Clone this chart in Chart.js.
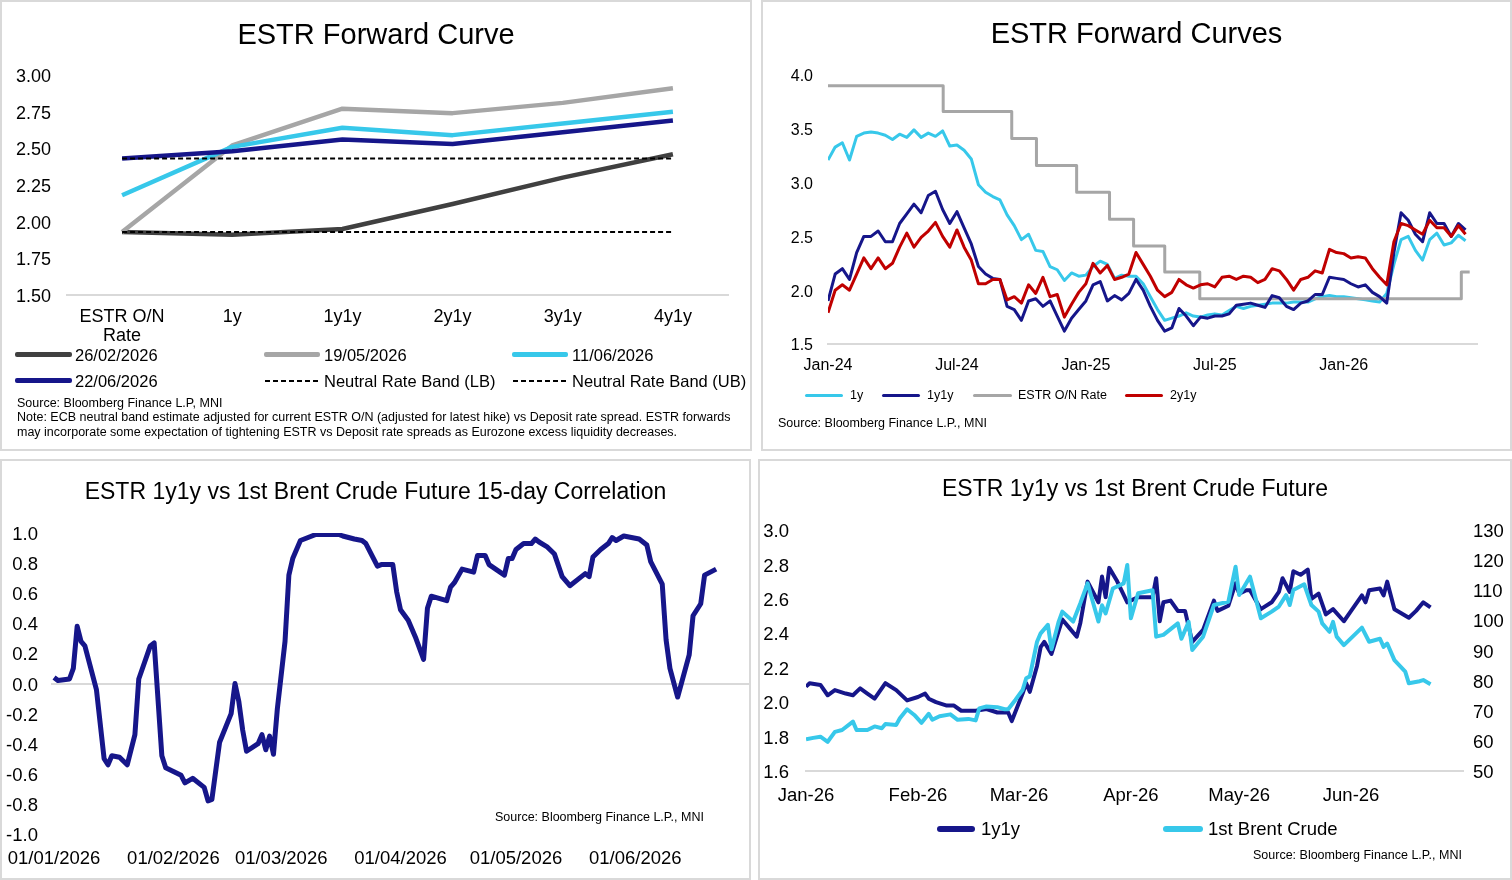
<!DOCTYPE html>
<html>
<head>
<meta charset="utf-8">
<title>ESTR forward curves</title>
<script src="https://cdn.jsdelivr.net/npm/chart.js@4.4.1/dist/chart.umd.min.js"></script>
<style>
  body { margin: 0; width: 1512px; height: 880px; position: relative; overflow: hidden; background: #fff;
         font-family: "Liberation Sans", Arial, sans-serif; color: #000; }
  .box { position: absolute; border: 2px solid #d9d9d9; box-sizing: border-box; }
  canvas { position: absolute; }
  .t { position: absolute; white-space: nowrap; line-height: 1; }
  .s { font-size: 12.5px; }
  .sw { position: absolute; border-radius: 2px; }
  .dash { position: absolute; height: 2px; background: repeating-linear-gradient(90deg, #000 0 5px, transparent 5px 8px); }
</style>
</head>
<body>
<!-- panel frames -->
<div class="box" style="left:0;top:0;width:752px;height:451px"></div>
<div class="box" style="left:761px;top:0;width:751px;height:451px"></div>
<div class="box" style="left:0;top:459px;width:751px;height:421px"></div>
<div class="box" style="left:758px;top:459px;width:754px;height:421px"></div>

<canvas id="curveChart" width="752" height="451" style="left:0;top:0"></canvas>
<canvas id="historyChart" width="751" height="451" style="left:761px;top:0"></canvas>
<canvas id="corrChart" width="751" height="421" style="left:0;top:459px"></canvas>
<canvas id="brentChart" width="754" height="421" style="left:758px;top:459px"></canvas>

<!-- top left -->
<div class="t" style="left:0;width:752px;text-align:center;top:20px;font-size:29px">ESTR Forward Curve</div>
<div class="sw" style="left:15px;top:352px;width:57px;height:5px;background:#404040"></div>
<div class="t" style="left:75px;top:347px;font-size:16.5px">26/02/2026</div>
<div class="sw" style="left:264px;top:352px;width:56px;height:5px;background:#a6a6a6"></div>
<div class="t" style="left:324px;top:347px;font-size:16.5px">19/05/2026</div>
<div class="sw" style="left:512px;top:352px;width:56px;height:5px;background:#37c8ea"></div>
<div class="t" style="left:572px;top:347px;font-size:16.5px">11/06/2026</div>
<div class="sw" style="left:15px;top:378px;width:57px;height:5px;background:#16168a"></div>
<div class="t" style="left:75px;top:373px;font-size:16.5px">22/06/2026</div>
<div class="dash" style="left:265px;top:380px;width:56px"></div>
<div class="t" style="left:324px;top:373px;font-size:16.5px">Neutral Rate Band (LB)</div>
<div class="dash" style="left:513px;top:380px;width:56px"></div>
<div class="t" style="left:572px;top:373px;font-size:16.5px">Neutral Rate Band (UB)</div>
<div class="t s" style="left:17px;top:397px">Source: Bloomberg Finance L.P, MNI</div>
<div class="t s" style="left:17px;top:411px">Note: ECB neutral band estimate adjusted for current ESTR O/N (adjusted for latest hike) vs Deposit rate spread. ESTR forwards</div>
<div class="t s" style="left:17px;top:426px">may incorporate some expectation of tightening ESTR vs Deposit rate spreads as Eurozone excess liquidity decreases.</div>

<!-- top right -->
<div class="t" style="left:761px;width:751px;text-align:center;top:19px;font-size:29px">ESTR Forward Curves</div>
<div class="sw" style="left:805px;top:394px;width:38px;height:3px;background:#37c8ea"></div>
<div class="t s" style="left:850px;top:389px">1y</div>
<div class="sw" style="left:882px;top:394px;width:38px;height:3px;background:#16168a"></div>
<div class="t s" style="left:927px;top:389px">1y1y</div>
<div class="sw" style="left:973px;top:394px;width:39px;height:3px;background:#a6a6a6"></div>
<div class="t s" style="left:1018px;top:389px">ESTR O/N Rate</div>
<div class="sw" style="left:1125px;top:394px;width:38px;height:3px;background:#c00000"></div>
<div class="t s" style="left:1170px;top:389px">2y1y</div>
<div class="t s" style="left:778px;top:417px">Source: Bloomberg Finance L.P., MNI</div>

<!-- bottom left -->
<div class="t" style="left:0;width:751px;text-align:center;top:480px;font-size:23px">ESTR 1y1y vs 1st Brent Crude Future 15-day Correlation</div>
<div class="t s" style="left:495px;top:811px">Source: Bloomberg Finance L.P., MNI</div>

<!-- bottom right -->
<div class="t" style="left:758px;width:754px;text-align:center;top:477px;font-size:23px">ESTR 1y1y vs 1st Brent Crude Future</div>
<div class="sw" style="left:937px;top:826px;width:38px;height:6px;background:#16168a;border-radius:3px"></div>
<div class="t" style="left:981px;top:820px;font-size:18.5px">1y1y</div>
<div class="sw" style="left:1163px;top:826px;width:40px;height:6px;background:#37c8ea;border-radius:3px"></div>
<div class="t" style="left:1208px;top:820px;font-size:18.5px">1st Brent Crude</div>
<div class="t s" style="left:1253px;top:849px">Source: Bloomberg Finance L.P., MNI</div>

<script>
// --- forward curve snapshots (top left) ---
const tenorLabels = [['ESTR O/N', 'Rate'], '1y', '1y1y', '2y1y', '3y1y', '4y1y'];
const curve260226 = [1.93, 1.91, 1.95, 2.12, 2.30, 2.46];
const curve190526 = [1.93, 2.52, 2.77, 2.74, 2.81, 2.91];
const curve110626 = [2.18, 2.51, 2.64, 2.59, 2.67, 2.75];
const curve220626 = [2.43, 2.48, 2.56, 2.53, 2.61, 2.69];
const neutralLB = [1.93, 1.93, 1.93, 1.93, 1.93, 1.93];
const neutralUB = [2.43, 2.43, 2.43, 2.43, 2.43, 2.43];

// --- forward history, one reading every ~10 days from Jan-24 (top right) ---
const histTickMonths = [0, 6, 12, 18, 24];
const histTickLabels = ['Jan-24', 'Jul-24', 'Jan-25', 'Jul-25', 'Jan-26'];
const hist1y = [
  3.21, 3.33, 3.37, 3.21, 3.43, 3.46, 3.47, 3.46, 3.44, 3.40,
  3.45, 3.42, 3.49, 3.42, 3.46, 3.43, 3.48, 3.34, 3.35, 3.30,
  3.22, 2.98, 2.91, 2.87, 2.84, 2.70, 2.60, 2.47, 2.52, 2.37,
  2.36, 2.22, 2.19, 2.09, 2.16, 2.13, 2.14, 2.22, 2.27, 2.24,
  2.11, 2.14, 2.13, 2.13, 2.06, 1.94, 1.82, 1.72, 1.74, 1.76,
  1.79, 1.76, 1.75, 1.77, 1.78, 1.77, 1.81, 1.85, 1.83, 1.85,
  1.86, 1.87, 1.88, 1.88, 1.88, 1.89, 1.89, 1.89, 1.92, 1.94,
  1.95, 1.94, 1.94, 1.93, 1.92, 1.91, 1.90, 1.89, 1.97, 2.24,
  2.47, 2.50, 2.37, 2.28, 2.47, 2.53, 2.42, 2.44, 2.51, 2.46
];
const hist1y1y = [
  1.90, 2.15, 2.20, 2.10, 2.35, 2.50, 2.50, 2.55, 2.45, 2.45,
  2.62, 2.71, 2.80, 2.72, 2.88, 2.92, 2.75, 2.62, 2.73, 2.58,
  2.43, 2.22, 2.15, 2.11, 2.10, 1.85, 1.82, 1.72, 1.90, 1.92,
  1.85, 1.90, 1.76, 1.62, 1.74, 1.82, 1.90, 2.05, 2.08, 1.90,
  1.95, 1.91, 1.97, 2.10, 2.00, 1.85, 1.72, 1.62, 1.65, 1.83,
  1.76, 1.67, 1.75, 1.74, 1.76, 1.76, 1.78, 1.86, 1.87, 1.88,
  1.86, 1.84, 1.95, 1.93, 1.85, 1.82, 1.88, 1.90, 1.96, 1.96,
  2.12, 2.11, 2.10, 2.06, 2.03, 2.05, 1.98, 1.94, 1.88, 2.35,
  2.72, 2.65, 2.52, 2.45, 2.72, 2.62, 2.62, 2.50, 2.62, 2.56
];
const hist2y1y = [
  1.79, 2.00, 2.05, 2.00, 2.15, 2.30, 2.20, 2.30, 2.20, 2.25,
  2.40, 2.53, 2.40, 2.49, 2.55, 2.63, 2.50, 2.40, 2.56, 2.40,
  2.28, 2.06, 2.06, 2.10, 2.10, 1.91, 1.94, 1.88, 2.05, 1.97,
  2.12, 1.94, 1.96, 1.75, 1.87, 1.98, 2.06, 2.25, 2.16, 2.23,
  2.10, 2.12, 2.15, 2.35, 2.24, 2.13, 2.00, 1.94, 1.98, 2.10,
  2.05, 2.02, 2.05, 2.06, 2.03, 2.12, 2.13, 2.10, 2.13, 2.12,
  2.07, 2.10, 2.20, 2.18, 2.10, 2.00, 2.10, 2.12, 2.18, 2.16,
  2.38, 2.35, 2.34, 2.30, 2.31, 2.30, 2.20, 2.12, 2.05, 2.45,
  2.62, 2.60, 2.56, 2.52, 2.65, 2.58, 2.58, 2.50, 2.60, 2.52
];
// ESTR O/N rate changes (months since Jan-24, new level)
const estrChangeMonths = [0, 5.36, 8.55, 9.7, 11.57, 13.1, 14.22, 15.67, 17.3, 29.47, 29.86];
const estrChangeRates = [3.90, 3.66, 3.41, 3.16, 2.91, 2.66, 2.41, 2.17, 1.92, 2.17, 2.17];

// --- 15-day correlation, days since 01/01/2026 (bottom left) ---
const dateTickDays = [0, 31, 59, 90, 120, 151];
const corrTickLabels = ['01/01/2026', '01/02/2026', '01/03/2026', '01/04/2026', '01/05/2026', '01/06/2026'];
const corrDays = [0, 1, 4, 5, 6, 7, 8, 11, 13, 14, 15, 17, 19, 21, 22, 25, 26, 28, 29, 33,
  34, 36, 39, 40, 41, 43, 46, 47, 48, 49, 50, 53, 54, 55, 56, 57, 58, 60, 61, 62,
  64, 68, 74, 75, 78, 80, 81, 83, 84, 85, 88, 89, 90, 92, 94, 96, 97, 98, 102, 103,
  104, 106, 109, 110, 112, 113, 117, 118, 119, 120, 122, 124, 125, 126, 128, 130, 132, 134, 137, 138,
  139, 140, 142, 144, 145, 146, 148, 152, 154, 155, 158, 159, 160, 162, 165, 166, 168, 169, 172];
const corrValues = [0.04, 0.02, 0.03, 0.10, 0.38, 0.28, 0.25, -0.04, -0.50, -0.54, -0.48, -0.49, -0.54, -0.34, 0.03, 0.25, 0.27, -0.48, -0.56, -0.61,
  -0.66, -0.63, -0.69, -0.78, -0.77, -0.39, -0.20, 0.00, -0.12, -0.31, -0.45, -0.40, -0.34, -0.44, -0.35, -0.47, -0.17, 0.28, 0.72, 0.83,
  0.95, 0.99, 0.99, 0.98, 0.96, 0.95, 0.93, 0.83, 0.78, 0.79, 0.79, 0.61, 0.49, 0.42, 0.30, 0.16, 0.50, 0.58, 0.55, 0.64,
  0.67, 0.76, 0.74, 0.85, 0.85, 0.79, 0.72, 0.83, 0.83, 0.89, 0.93, 0.93, 0.96, 0.94, 0.91, 0.86, 0.71, 0.65, 0.71, 0.73,
  0.71, 0.84, 0.89, 0.93, 0.97, 0.95, 0.98, 0.96, 0.92, 0.81, 0.66, 0.29, 0.10, -0.09, 0.19, 0.45, 0.53, 0.72, 0.76];

// --- 1y1y vs Brent, days since 01/01/2026 (bottom right) ---
const brentTickLabels = ['Jan-26', 'Feb-26', 'Mar-26', 'Apr-26', 'May-26', 'Jun-26'];
const fwdDays = [0, 1, 4, 6, 8, 11, 13, 15, 17, 19, 22, 25, 28, 31, 33, 34, 36, 39, 41, 43,
  47, 50, 53, 56, 57, 60, 61, 62, 64, 65, 66, 68, 71, 73, 75, 76, 78, 81, 82, 83,
  84, 86, 89, 92, 96, 97, 98, 99, 101, 103, 105, 107, 110, 113, 114, 117, 119, 120, 122, 123,
  126, 129, 131, 132, 134, 135, 137, 139, 140, 142, 144, 146, 149, 151, 154, 155, 156, 159, 160, 161,
  163, 167, 169, 171, 173];
const fwd1y1y = [2.09, 2.11, 2.10, 2.04, 2.07, 2.05, 2.04, 2.08, 2.05, 2.02, 2.11, 2.07, 2.01, 2.03, 2.05, 2.02, 2.00, 1.98, 1.98, 1.95,
  1.95, 1.96, 1.94, 1.94, 1.89, 2.05, 2.11, 2.06, 2.21, 2.32, 2.35, 2.28, 2.48, 2.43, 2.38, 2.46, 2.70, 2.58, 2.73, 2.61,
  2.78, 2.71, 2.58, 2.61, 2.61, 2.72, 2.47, 2.58, 2.59, 2.53, 2.53, 2.35, 2.42, 2.59, 2.53, 2.56, 2.69, 2.63, 2.65, 2.65,
  2.54, 2.58, 2.64, 2.72, 2.64, 2.76, 2.74, 2.77, 2.60, 2.63, 2.51, 2.54, 2.47, 2.53, 2.62, 2.58, 2.65, 2.66, 2.62, 2.70,
  2.54, 2.49, 2.53, 2.58, 2.55];
const brentDays = [0, 2, 4, 6, 8, 10, 13, 14, 17, 19, 21, 22, 25, 26, 28, 30, 32, 34, 35, 37,
  40, 42, 45, 47, 48, 50, 53, 55, 56, 58, 60, 61, 62, 64, 65, 67, 68, 70, 71, 74,
  76, 78, 81, 82, 83, 85, 88, 89, 90, 92, 96, 97, 99, 103, 104, 106, 107, 110, 113, 117,
  119, 120, 123, 126, 129, 131, 133, 134, 135, 138, 140, 142, 143, 145, 146, 147, 149, 154, 156, 159,
  160, 161, 163, 166, 167, 170, 171, 173];
const brentPrices = [60.5, 61.0, 61.4, 59.7, 63.0, 63.6, 66.4, 63.6, 63.6, 64.8, 64.2, 65.6, 65.3, 67.5, 70.5, 68.6, 66.0, 69.0, 67.0, 68.2,
  68.8, 67.0, 67.3, 66.8, 70.8, 71.4, 71.2, 70.5, 70.5, 73.6, 76.9, 80.8, 81.4, 92.9, 95.7, 98.5, 90.4, 99.6, 102.9, 99.6,
  105.7, 112.3, 99.6, 105.0, 102.3, 110.6, 112.3, 118.4, 100.7, 109.0, 110.0, 94.6, 95.2, 99.0, 93.9, 99.5, 90.2, 94.6, 105.1, 106.2,
  117.8, 108.4, 114.5, 100.7, 102.9, 104.6, 108.4, 105.1, 110.1, 112.0, 105.1, 102.9, 99.0, 96.2, 99.5, 94.6, 91.8, 97.6, 92.9, 93.9,
  91.2, 92.3, 86.8, 83.0, 79.1, 79.8, 80.2, 78.8];

const NAVY = '#16168a';
const CYAN = '#37c8ea';
const GREY = '#a6a6a6';
const DARK = '#404040';
const RED = '#c00000';
const AXIS = '#d9d9d9';

Chart.defaults.font.family = '"Liberation Sans", Arial, sans-serif';
Chart.defaults.color = '#000';

const common = {
  responsive: false,
  animation: false,
  devicePixelRatio: 1,
  plugins: { legend: { display: false }, tooltip: { enabled: false } },
  elements: { point: { radius: 0 }, line: { tension: 0, borderJoinStyle: 'round' } }
};

const pairs = (xs, ys) => ys.map((y, i) => ({ x: xs[i], y: y }));
const fixTicks = (values) => (s) => { s.ticks = values.map(v => ({ value: v })); };
// pin the x axis height and stop edge labels from pushing the plot area
const xFit = (h) => (s) => { s.height = h; s.paddingLeft = 0; s.paddingRight = 0; };

// top left
new Chart(document.getElementById('curveChart'), {
  type: 'line',
  data: {
    labels: tenorLabels,
    datasets: [
      { data: neutralUB, borderColor: '#000', borderWidth: 2, borderDash: [5, 3] },
      { data: neutralLB, borderColor: '#000', borderWidth: 2, borderDash: [5, 3] },
      { data: curve220626, borderColor: NAVY, borderWidth: 4.5 },
      { data: curve110626, borderColor: CYAN, borderWidth: 4.5 },
      { data: curve190526, borderColor: GREY, borderWidth: 4.5 },
      { data: curve260226, borderColor: DARK, borderWidth: 4.5 }
    ]
  },
  options: {
    ...common,
    layout: { padding: { left: 0, top: 75, right: 24, bottom: 0 } },
    scales: {
      x: {
        offset: true,
        grid: { display: false, drawTicks: false },
        border: { color: AXIS, width: 2 },
        ticks: { font: { size: 18, lineHeight: 1.05 }, padding: 13, maxRotation: 0, autoSkip: false },
        afterFit: xFit(156)
      },
      y: {
        min: 1.5, max: 3.0,
        grid: { display: false, drawTicks: false },
        border: { display: false },
        ticks: { stepSize: 0.25, padding: 16, labelOffset: 2, font: { size: 18 }, callback: (v) => v.toFixed(2) },
        afterFit: (s) => { s.width = 67; }
      }
    }
  }
});

// top right
new Chart(document.getElementById('historyChart'), {
  type: 'line',
  data: {
    datasets: [
      { data: hist2y1y.map((v, i) => ({ x: i / 3, y: v })), borderColor: RED, borderWidth: 3 },
      { data: hist1y1y.map((v, i) => ({ x: i / 3, y: v })), borderColor: NAVY, borderWidth: 3 },
      { data: pairs(estrChangeMonths, estrChangeRates), borderColor: GREY, borderWidth: 3, stepped: 'before' },
      { data: hist1y.map((v, i) => ({ x: i / 3, y: v })), borderColor: CYAN, borderWidth: 3 }
    ]
  },
  options: {
    ...common,
    layout: { padding: { left: 0, top: 75, right: 35, bottom: 0 } },
    scales: {
      x: {
        type: 'linear', min: 0, max: 30.2,
        afterBuildTicks: fixTicks(histTickMonths),
        grid: { display: false, drawTicks: false },
        border: { color: AXIS, width: 2 },
        ticks: { font: { size: 16 }, padding: 12, maxRotation: 0, autoSkip: false,
                 callback: (v, i) => histTickLabels[i] },
        afterFit: xFit(107)
      },
      y: {
        min: 1.5, max: 4.0,
        grid: { display: false, drawTicks: false },
        border: { display: false },
        ticks: { stepSize: 0.5, padding: 15, labelOffset: 2, font: { size: 16 }, callback: (v) => v.toFixed(1) },
        afterFit: (s) => { s.width = 67; }
      }
    }
  }
});

// bottom left
new Chart(document.getElementById('corrChart'), {
  type: 'line',
  data: {
    datasets: [
      { data: pairs(corrDays, corrValues), borderColor: NAVY, borderWidth: 5 }
    ]
  },
  options: {
    ...common,
    layout: { padding: { left: 0, top: 74, right: 1, bottom: 0 } },
    scales: {
      x: {
        type: 'linear', min: -0.8, max: 180.8,
        afterBuildTicks: fixTicks(dateTickDays),
        grid: { display: false, drawTicks: false },
        border: { display: false },
        ticks: { font: { size: 18.5 }, padding: 14, maxRotation: 0, autoSkip: false,
                 callback: (v, i) => corrTickLabels[i] },
        afterFit: xFit(46)
      },
      y: {
        min: -1, max: 1,
        grid: { drawTicks: false, lineWidth: 2,
                color: (c) => (c.tick && Math.abs(c.tick.value) < 1e-9 ? AXIS : 'rgba(0,0,0,0)') },
        border: { display: false },
        ticks: { stepSize: 0.2, padding: 13, labelOffset: 2, font: { size: 18.5 }, callback: (v) => v.toFixed(1) },
        afterFit: (s) => { s.width = 51; }
      }
    }
  }
});

// bottom right
new Chart(document.getElementById('brentChart'), {
  type: 'line',
  data: {
    datasets: [
      { data: pairs(brentDays, brentPrices), borderColor: CYAN, borderWidth: 4, yAxisID: 'y1' },
      { data: pairs(fwdDays, fwd1y1y), borderColor: NAVY, borderWidth: 4, yAxisID: 'y' }
    ]
  },
  options: {
    ...common,
    layout: { padding: { left: 0, top: 71, right: 0, bottom: 0 } },
    scales: {
      x: {
        type: 'linear', min: 0, max: 182,
        afterBuildTicks: fixTicks(dateTickDays),
        grid: { display: false, drawTicks: false },
        border: { color: AXIS, width: 2 },
        ticks: { font: { size: 18.5 }, padding: 14, maxRotation: 0, autoSkip: false,
                 callback: (v, i) => brentTickLabels[i] },
        afterFit: xFit(109)
      },
      y: {
        position: 'left', min: 1.6, max: 3.0,
        grid: { display: false, drawTicks: false },
        border: { display: false },
        ticks: { stepSize: 0.2, padding: 17, labelOffset: 2, font: { size: 18.5 }, callback: (v) => v.toFixed(1) },
        afterFit: (s) => { s.width = 48; }
      },
      y1: {
        position: 'right', min: 50, max: 130,
        grid: { display: false, drawTicks: false },
        border: { display: false },
        ticks: { stepSize: 10, padding: 10, labelOffset: 2, font: { size: 18.5 } },
        afterFit: (s) => { s.width = 49; }
      }
    }
  }
});
</script>
</body>
</html>
